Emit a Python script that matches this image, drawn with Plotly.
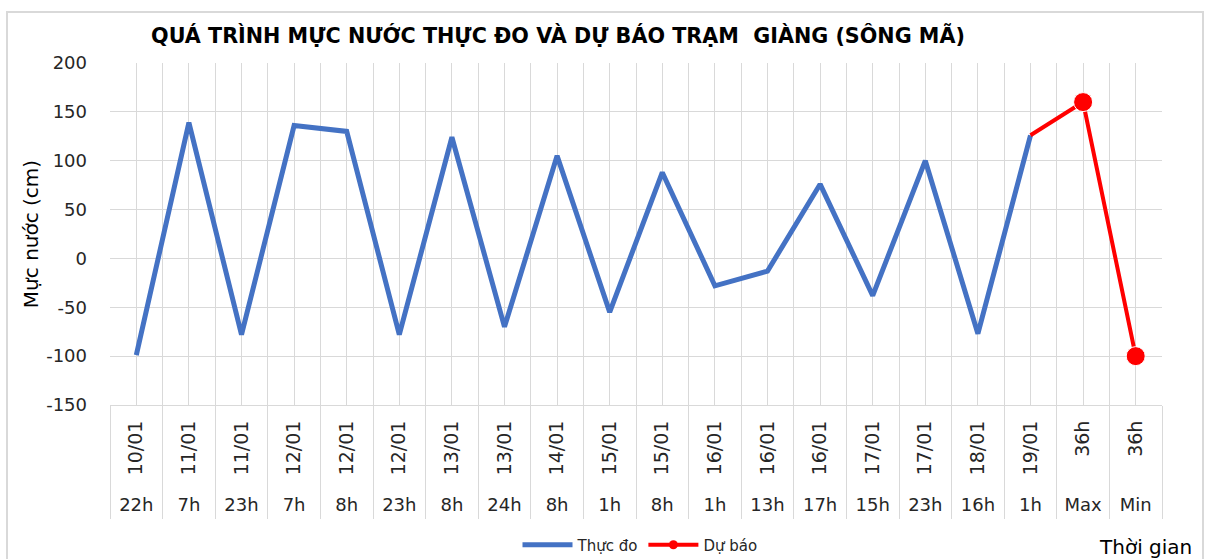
import plotly.graph_objects as go

dates = ["10/01", "11/01", "11/01", "12/01", "12/01", "12/01", "13/01", "13/01", "14/01", "15/01",
         "15/01", "16/01", "16/01", "16/01", "17/01", "17/01", "18/01", "19/01", "36h", "36h"]
hours = ["22h", "7h", "23h", "7h", "8h", "23h", "8h", "24h", "8h", "1h",
         "8h", "1h", "13h", "17h", "15h", "23h", "16h", "1h", "Max", "Min"]
observed = [-99, 139, -78, 136, 130, -78, 124, -70, 105, -55,
            88, -28, -13, 76, -38, 100, -77, 126, None, None]
forecast = [None, None, None, None, None, None, None, None, None, None,
            None, None, None, None, None, None, None, 126, 160, -100]
forecast_marker = [0, 0, 0, 0, 0, 0, 0, 0, 0, 0,
                   0, 0, 0, 0, 0, 0, 0, 0, 19, 19]
y_ticks = [-150, -100, -50, 0, 50, 100, 150, 200]
y_ticktext = ["-150", "-100", "-50", "0", "50", "100", "150", "200"]

title = "QUÁ TRÌNH MỰC NƯỚC THỰC ĐO VÀ DỰ BÁO TRẠM  GIÀNG (SÔNG MÃ)"
idx = list(range(len(dates)))

FONT = "DejaVu Sans"
GRID = "#d9d9d9"
TXT = "#262626"
BLUE = "#4472c4"
RED = "#ff0000"

W, H = 1208, 559
ml, mr, mt, mb = 110, 46, 63, 0
pw = W - ml - mr
ph = H - mt - mb


def py(pix):
    return (H - mb - pix) / ph


def px(pix):
    return (pix - ml) / pw


fig = go.Figure()
fig.add_trace(go.Scatter(x=idx, y=observed, name="Thực đo", mode="lines",
                         line=dict(color=BLUE, width=5), connectgaps=False,
                         legendrank=1))
fig.add_trace(go.Scatter(x=idx, y=forecast, name="Dự báo", mode="lines+markers",
                         line=dict(color=RED, width=4), showlegend=False, legendgroup="fc",
                         marker=dict(color=RED, size=forecast_marker, opacity=1)))
# legend entry for the forecast series
fig.add_trace(go.Scatter(x=[None], y=[None], name="Dự báo", mode="lines+markers",
                         line=dict(color=RED, width=4), legendgroup="fc",
                         marker=dict(color=RED, size=9), legendrank=2))
# invisible trace to carry the hour-row axis
fig.add_trace(go.Scatter(x=idx, y=observed, xaxis="x2", mode="lines",
                         line=dict(width=0, color="rgba(0,0,0,0)"), showlegend=False,
                         hoverinfo="skip"))

fig.update_layout(
    width=W, height=H,
    margin=dict(l=ml, r=mr, t=mt, b=mb, autoexpand=False),
    paper_bgcolor="white", plot_bgcolor="white",
    font=dict(family=FONT, color=TXT),
    title=dict(text="<b>" + title + "</b>", x=558 / W, xanchor="center",
               y=1 - 36 / H, yanchor="middle",
               font=dict(size=20.7, color="#000000", family=FONT)),
    showlegend=True,
    legend=dict(orientation="h", x=px(640), xanchor="center", y=py(545), yanchor="middle",
                font=dict(size=15, color=TXT), bgcolor="rgba(0,0,0,0)", itemwidth=50),
    xaxis=dict(range=[-0.5, len(dates) - 0.5], tickmode="array", tickvals=idx, ticktext=dates,
               tickangle=-90, tickfont=dict(size=19, color=TXT), showgrid=True, gridcolor=GRID,
               gridwidth=1, zeroline=False, showline=True, linecolor=GRID, linewidth=1,
               ticks="", anchor="y", automargin=False, ticklabelstandoff=7,
               minor=dict(tickmode="linear", tick0=-0.5, dtick=1, ticks="outside", ticklen=113,
                          tickcolor=GRID, tickwidth=1, showgrid=True, gridcolor=GRID, gridwidth=1)),
    xaxis2=dict(range=[-0.5, len(dates) - 0.5], tickmode="array", tickvals=idx, ticktext=hours,
                tickangle=0, tickfont=dict(size=18, color=TXT), showgrid=False, zeroline=False,
                showline=False, ticks="", anchor="free", position=py(492), overlaying="x",
                side="bottom", automargin=False),
    yaxis=dict(domain=[py(405), 1], range=[-150, 200], tickmode="array", tickvals=y_ticks,
               ticktext=y_ticktext, ticklabelstandoff=22, automargin=False,
               tickfont=dict(size=18, color=TXT), showgrid=True, gridcolor=GRID, gridwidth=1,
               zeroline=False, showline=False, ticks="",
               title=dict(text="Mực nước (cm)", font=dict(size=20, color="#000000"), standoff=2)),
)

fig.add_annotation(text="Thời gian", xref="paper", yref="paper", x=px(1194),
                   xanchor="right", y=py(547), yanchor="middle", showarrow=False,
                   font=dict(size=20, color="#000000", family=FONT))
# chart frame
fig.add_shape(type="rect", xref="paper", yref="paper",
              x0=px(7), x1=px(1203), y0=py(575), y1=py(12),
              line=dict(color="#d9d9d9", width=2), layer="below")

fig.write_html("out.html", config={"displayModeBar": False},
               post_script="document.body.style.margin='0px';document.body.style.overflow='hidden';")
